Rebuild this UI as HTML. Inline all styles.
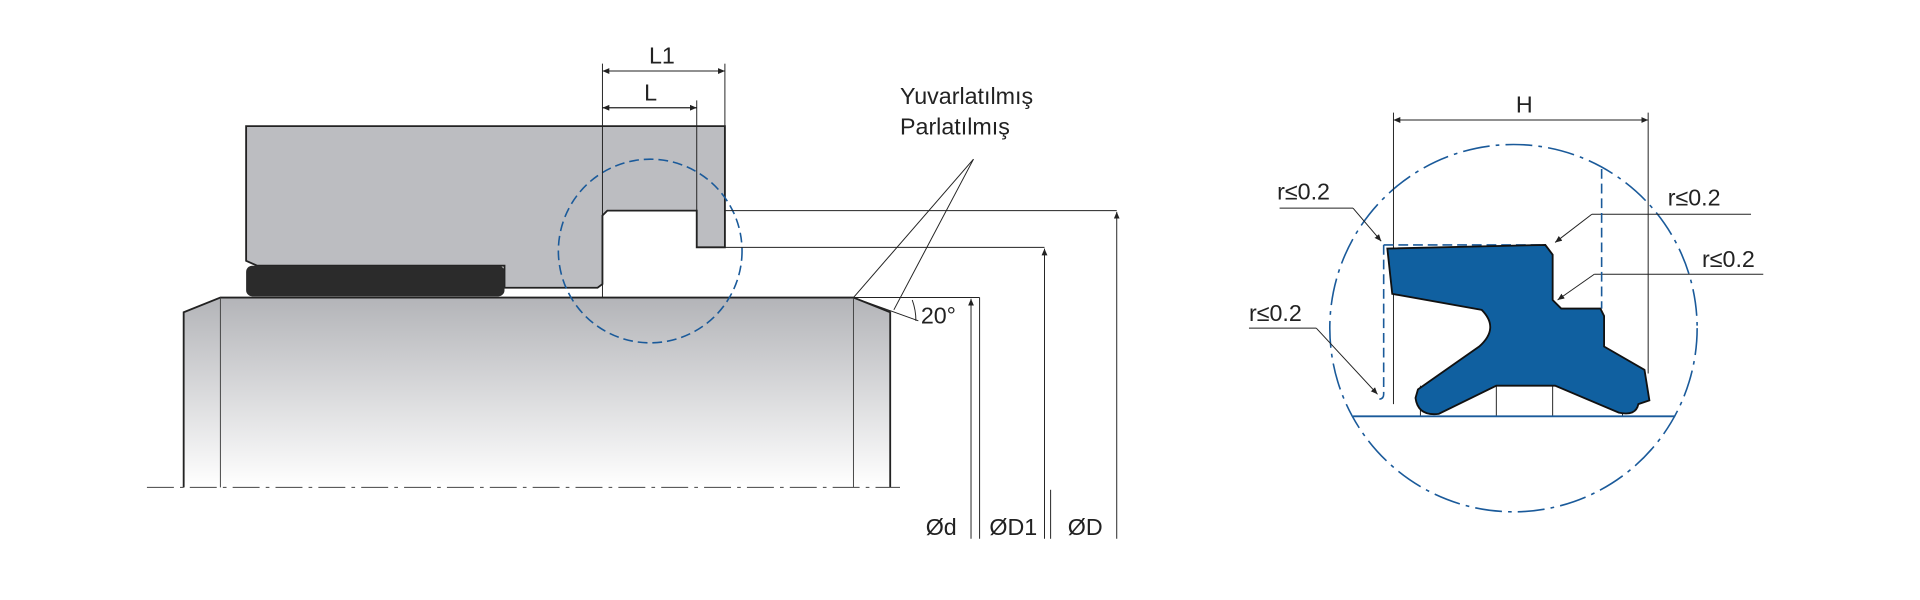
<!DOCTYPE html>
<html><head><meta charset="utf-8"><style>
html,body{margin:0;padding:0;background:#fff;}
svg{display:block;}
text{font-family:"Liberation Sans",sans-serif;fill:#222;}
</style></head><body>
<svg width="1920" height="600" viewBox="0 0 1568 490" xmlns="http://www.w3.org/2000/svg">
<defs>
<linearGradient id="g" x1="0" y1="0" x2="0" y2="1">
<stop offset="0" stop-color="#b3b4b8"/><stop offset="1" stop-color="#ffffff"/>
</linearGradient>
<marker id="a" markerWidth="8" markerHeight="8" refX="7" refY="3" orient="auto"><path d="M0,0 L7,3 L0,6z" fill="#222"/></marker>
</defs>
<!-- shaft -->
<polygon points="150,255 180,243 697,243 727,255 727,398 150,398" fill="url(#g)"/>
<polyline points="150,398 150,255 180,243 697,243 727,255 727,398" fill="none" stroke="#222" stroke-width="1.5"/>
<line x1="180" y1="243" x2="180" y2="398" stroke="#444" stroke-width="0.8"/>
<line x1="697" y1="243" x2="697" y2="398" stroke="#444" stroke-width="0.8"/>
<line x1="120" y1="398" x2="735" y2="398" stroke="#444" stroke-width="0.8" stroke-dasharray="22,5,3,5"/>
<!-- housing -->
<polygon points="201,103 592,103 592,202 569,202 569,172 496,172 492,176 492,232 488,235 412,235 412,217 210,217 201,213" fill="#bcbdc1" stroke="#222" stroke-width="1.5"/>
<rect x="201" y="217" width="211" height="25" rx="5" fill="#2b2b2b"/>
<circle cx="531" cy="205" r="75" fill="none" stroke="#1a5a9a" stroke-width="1.3" stroke-dasharray="8,4"/>
<!-- dims -->
<g stroke="#222" stroke-width="0.8" fill="none">
<line x1="492" y1="52" x2="492" y2="243"/><line x1="592" y1="52" x2="592" y2="103"/>
<line x1="569" y1="82" x2="569" y2="172"/>
<line x1="492" y1="58" x2="592" y2="58" marker-end="url(#a)"/><line x1="592" y1="58" x2="492" y2="58" marker-end="url(#a)"/>
<line x1="492" y1="88" x2="569" y2="88" marker-end="url(#a)"/><line x1="569" y1="88" x2="492" y2="88" marker-end="url(#a)"/>
<line x1="592" y1="172" x2="912" y2="172"/><line x1="569" y1="202" x2="853" y2="202"/><line x1="697" y1="243" x2="800" y2="243"/>
<line x1="793" y1="440" x2="793" y2="244" marker-end="url(#a)"/>
<line x1="853" y1="440" x2="853" y2="203" marker-end="url(#a)"/>
<line x1="912" y1="440" x2="912" y2="173" marker-end="url(#a)"/>
<line x1="800" y1="243" x2="800" y2="440"/><line x1="858" y1="400" x2="858" y2="440"/>
<line x1="795" y1="130" x2="697" y2="243"/><line x1="795" y1="130" x2="730" y2="253"/>
<line x1="697" y1="243" x2="750" y2="262"/>
<path d="M745,245 A50,50 0 0 1 748,262"/>
</g>
<text x="530" y="52" font-size="19">L1</text>
<text x="526" y="82" font-size="19">L</text>
<text x="735" y="85" font-size="19">Yuvarlatılmış</text>
<text x="735" y="110" font-size="19">Parlatılmış</text>
<text x="752" y="264" font-size="19">20°</text>
<text x="756" y="437" font-size="19">Ød</text>
<text x="808" y="437" font-size="19">ØD1</text>
<text x="872" y="437" font-size="19">ØD</text>
<!-- right -->
<circle cx="1236" cy="268" r="150" fill="none" stroke="#1a5a9a" stroke-width="1.3" stroke-dasharray="22,5,3,5"/>
<g stroke="#222" stroke-width="0.8" fill="none">
<line x1="1138" y1="92" x2="1138" y2="330"/><line x1="1346" y1="92" x2="1346" y2="305"/>
<line x1="1138" y1="98" x2="1346" y2="98" marker-end="url(#a)"/><line x1="1346" y1="98" x2="1138" y2="98" marker-end="url(#a)"/>
<line x1="1045" y1="170" x2="1105" y2="170"/><line x1="1105" y1="170" x2="1128" y2="197" marker-end="url(#a)"/>
<line x1="1430" y1="175" x2="1300" y2="175"/><line x1="1300" y1="175" x2="1270" y2="198" marker-end="url(#a)"/>
<line x1="1440" y1="224" x2="1302" y2="224"/><line x1="1302" y1="224" x2="1272" y2="245" marker-end="url(#a)"/>
<line x1="1020" y1="268" x2="1075" y2="268"/><line x1="1075" y1="268" x2="1125" y2="322" marker-end="url(#a)"/>
<line x1="1160" y1="315" x2="1160" y2="340"/><line x1="1222" y1="315" x2="1222" y2="340"/><line x1="1268" y1="315" x2="1268" y2="340"/><line x1="1325" y1="330" x2="1325" y2="340"/>
</g>
<line x1="1105" y1="340" x2="1368" y2="340" stroke="#1a5a9a" stroke-width="1.5"/>
<path d="M1130,200 L1262,200 M1130,200 L1130,322 Q1130,326 1126,326 M1308,138 L1308,252" stroke="#1a5a9a" stroke-width="1.3" fill="none" stroke-dasharray="8,4"/>
<path d="M1133,203 L1262,200 L1268,208 L1268,245 L1275,252 L1307,252 L1310,258 L1310,283 L1343,302 L1347,327 L1338,330 Q1336,340 1322,337 L1270,315 L1222,315 L1175,338 Q1158,340 1156,325 L1158,318 L1208,283 Q1225,268 1210,253 L1137,240 Z" fill="#1060a0" stroke="#111" stroke-width="1.5"/>
<text x="1238" y="92" font-size="19">H</text>
<text x="1043" y="163" font-size="19">r≤0.2</text>
<text x="1362" y="168" font-size="19">r≤0.2</text>
<text x="1390" y="218" font-size="19">r≤0.2</text>
<text x="1020" y="262" font-size="19">r≤0.2</text>
</svg>
</body></html>
